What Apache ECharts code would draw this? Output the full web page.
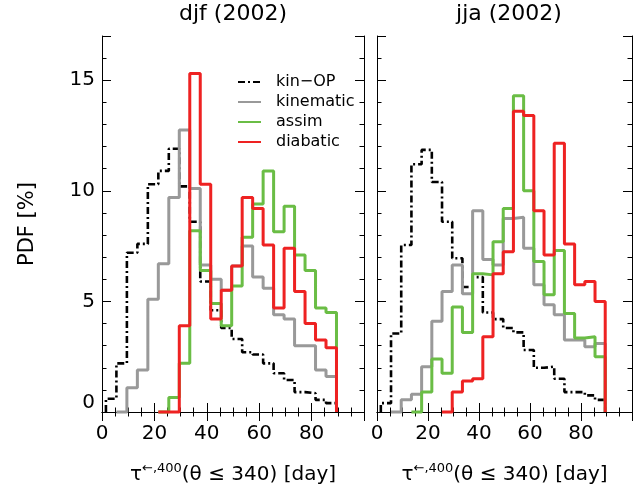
<!DOCTYPE html>
<html><head><meta charset="utf-8">
<script src="https://cdn.jsdelivr.net/npm/echarts@6/dist/echarts.min.js"></script>
<style>html,body{margin:0;padding:0;background:#fff}#c{width:635px;height:495px}</style>
</head><body><div id="c"></div>
<script>
// Bin edges in days (4-day bins)
const binEdges = [1.5,5.5,9.5,13.5,17.5,21.5,25.5,29.5,33.5,37.5,41.5,45.5,49.5,53.5,57.5,61.5,65.5,69.5,73.5,77.5,81.5,85.5,89.5];
const panelTitles = ['djf (2002)', 'jja (2002)'];
const seriesNames = ['kin\u2212OP', 'kinematic', 'assim', 'diabatic'];
const xTickLabels = [0, 20, 40, 60, 80];
const yTickLabels = [0, 5, 10, 15];

// DJF PDF [%]
const kinOP_djf     = [0.6,2.2,7.2,7.6,10.3,10.9,11.9,10.2,8.6,5.9,4.6,3.8,3.3,2.7,2.6,2.2,1.75,1.45,0.9,0.85,0.55,0.4];
const kinematic_djf = [null,0,1.1,1.9,5.1,6.7,9.7,12.75,10.1,6.65,6.0,5.5,6.6,7.5,6.1,5.6,4.4,4.2,3.0,3.0,1.9,1.6];
const assim_djf     = [null,null,null,null,null,0,0.65,2.2,8.2,6.4,4.9,3.9,5.7,7.9,9.4,10.9,8.15,9.3,7.1,6.4,4.7,4.5];
const diabatic_djf  = [null,null,null,null,null,0,0,3.9,15.3,10.3,4.2,5.5,6.6,9.7,9.2,7.55,4.7,7.4,5.45,4.0,3.25,2.9];
// JJA PDF [%]
const kinOP_jja     = [0.4,3.55,7.55,11.2,11.85,10.4,8.6,6.95,5.65,6.1,4.5,4.2,3.8,3.6,2.8,2.0,2.05,1.5,0.9,0.9,0.75,0.55];
const kinematic_jja = [null,0,0.55,0.8,2.05,4.1,5.45,6.65,5.35,9.1,6.9,6.65,8.75,8.8,7.4,5.75,4.85,4.4,3.25,3.25,2.95,3.1];
const assim_jja     = [null,null,null,0,0.9,2.4,1.75,4.75,3.6,6.25,6.2,7.7,9.2,14.3,10.0,6.8,5.3,7.3,4.45,3.35,3.4,2.5];
const diabatic_jja  = [null,null,null,null,null,null,0,0.9,1.4,1.5,3.4,6.25,7.25,13.6,13.4,9.1,7.1,12.15,7.6,5.75,5.9,5.0];

const FONT = '"DejaVu Sans", "Liberation Sans", Arial, sans-serif';
const styles = [
  {color:'#000000', width:2.6, type:[7,3,2,3]},
  {color:'#999999', width:3, type:'solid'},
  {color:'#6abd45', width:3, type:'solid'},
  {color:'#ee2222', width:3, type:'solid'}
];

function stepData(vals){
  const out = [];
  let s = vals.findIndex(v => v !== null);
  out.push([binEdges[s], 0]);
  for (let k = s; k < vals.length; k++) out.push([binEdges[k], vals[k]]);
  const n = vals.length;
  out.push([binEdges[n], vals[n-1]]);
  out.push([binEdges[n], 0]);
  return out;
}

const grids = [{left:102, top:36, width:262, height:376}, {left:377, top:36, width:264, height:376}];

const xAxes = [], yAxes = [];
const xName = '{t|\u03c4}{s|\u2190,400}{t|(\u03b8 \u2264 340) [day]}';
for (let g = 0; g < 2; g++) {
  ['bottom','top'].forEach((pos, i) => {
    xAxes.push({
      type:'value', gridIndex:g, position:pos, min:0, max:100, interval:20,
      axisLine:{show:true, lineStyle:{color:'#000', width:1}},
      axisTick:{show:true, inside:true, length:9, lineStyle:{color:'#000'}},
      minorTick:{show:true, splitNumber:4, length:4.5, lineStyle:{color:'#000'}},
      splitLine:{show:false},
      axisLabel:{show: pos==='bottom', margin:12, fontSize:20, color:'#000', fontFamily:FONT,
        formatter: v => xTickLabels.includes(v) ? String(v) : ''},
      name: pos==='bottom' ? xName : '', nameLocation:'middle', nameGap:50,
      nameTextStyle:{color:'#000', fontFamily:FONT, rich:{
        t:{fontSize:20, fontFamily:FONT, color:'#000'},
        s:{fontSize:13, fontFamily:FONT, color:'#000', verticalAlign:'top', padding:[0,0,12,0]}}}
    });
  });
  ['left','right'].forEach(pos => {
    // major
    yAxes.push({
      type:'value', gridIndex:g, position:pos, min:0, max:17, interval:5,
      axisLine:{show:true, lineStyle:{color:'#000', width:1}},
      axisTick:{show:true, inside:true, length:9, lineStyle:{color:'#000'}},
      splitLine:{show:false},
      axisLabel:{show: g===0 && pos==='left', margin:7, fontSize:20, color:'#000', fontFamily:FONT,
        formatter: v => v===0 ? '{z|0}' : (yTickLabels.includes(v) ? String(v) : ''),
        rich:{z:{fontSize:20, fontFamily:FONT, color:'#000', padding:[0,0,18,0]}}},
      name: (g===0 && pos==='left') ? 'PDF [%]' : '', nameLocation:'middle', nameGap:64,
      nameTextStyle:{fontSize:21, color:'#000', fontFamily:FONT}
    });
    // minor
    yAxes.push({
      type:'value', gridIndex:g, position:pos, min:0, max:17, interval:1,
      axisLine:{show:false},
      axisTick:{show:true, inside:true, length:4.5, lineStyle:{color:'#000'}},
      splitLine:{show:false}, axisLabel:{show:false}
    });
  });
}

const panelData = [
  [kinOP_djf, kinematic_djf, assim_djf, diabatic_djf],
  [kinOP_jja, kinematic_jja, assim_jja, diabatic_jja]
];
const series = [];
panelData.forEach((arrs, g) => {
  arrs.forEach((vals, i) => {
    series.push({
      name: seriesNames[i], type:'line', step:'end', symbol:'none', clip:false,
      xAxisIndex: g*2, yAxisIndex: g*4,
      lineStyle:{color:styles[i].color, width:styles[i].width, type:styles[i].type},
      itemStyle:{color:styles[i].color},
      data: stepData(vals), animation:false
    });
  });
});

const chart = echarts.init(document.getElementById('c'), null, {renderer:'canvas'});
chart.setOption({
  animation:false,
  backgroundColor:'#fff',
  title: panelTitles.map((t, g) => ({
    text:t, left: grids[g].left + grids[g].width/2, top:3, textAlign:'center', padding:0,
    textStyle:{fontSize:22, fontWeight:'normal', color:'#000', fontFamily:FONT}
  })),
  legend:{
    data: seriesNames, orient:'vertical', left:237, top:72, padding:0, itemGap:0,
    itemWidth:23, itemHeight:12,
    itemStyle:{opacity:0},
    textStyle:{fontSize:16, color:'#000', fontFamily:FONT, lineHeight:20, padding:[0,0,0,10]},
    selectedMode:false
  },
  grid: grids,
  xAxis: xAxes,
  yAxis: yAxes,
  series: series
});
</script>
</body></html>
